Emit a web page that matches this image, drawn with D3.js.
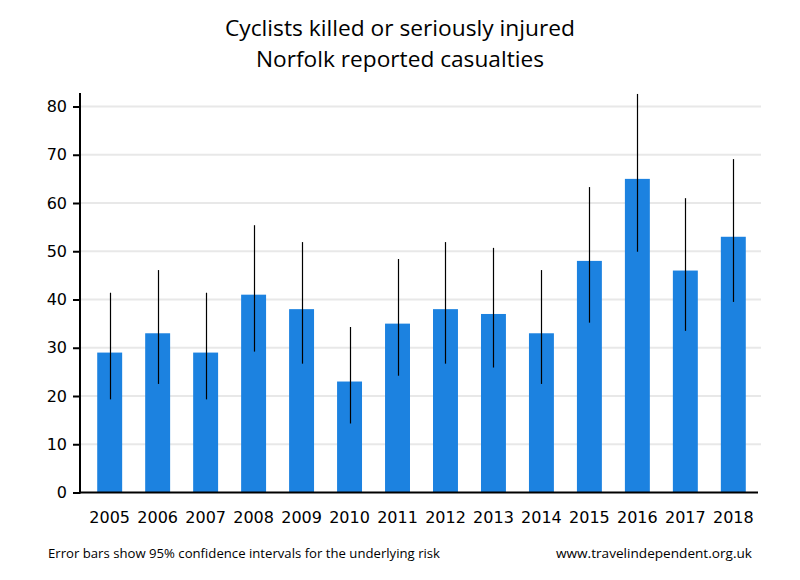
<!DOCTYPE html>
<html><head><meta charset="utf-8">
<script src="https://cdn.jsdelivr.net/npm/d3@7"></script>
<style>body{margin:0;background:#fff}</style>
</head><body>
<svg id="c" width="800" height="580"></svg>
<script>
const years = ["2005","2006","2007","2008","2009","2010","2011","2012","2013","2014","2015","2016","2017","2018"];
const casualties = [29,33,29,41,38,23,35,38,37,33,48,65,46,53];
const ciLow  = [19.3,22.5,19.3,29.2,26.7,14.3,24.2,26.7,25.9,22.5,35.2,49.9,33.5,39.5];
const ciHigh = [41.4,46.1,41.4,55.4,51.9,34.3,48.4,51.9,50.7,46.1,63.3,82.6,61.0,69.1];
const yTicks = [0,10,20,30,40,50,60,70,80];
const titleLines = ["Cyclists killed or seriously injured","Norfolk reported casualties"];
const footLeft = "Error bars show 95% confidence intervals for the underlying risk";
const footRight = "www.travelindependent.org.uk";

const svg = d3.select("#c");
const x = d3.scaleBand().domain(years).range([85.7,757.3]).paddingInner(0.48).paddingOuter(0.24);
const y = d3.scaleLinear().domain([0,80]).range([492.5,106.5]);

// gridlines
svg.append("g").selectAll("line").data(yTicks.filter(d=>d>0)).join("line")
  .attr("x1",80).attr("x2",761).attr("y1",d=>y(d)).attr("y2",d=>y(d))
  .attr("stroke","#e8e8e8").attr("stroke-width",2);

// bars
svg.append("g").selectAll("rect").data(years).join("rect")
  .attr("x",d=>x(d)).attr("width",x.bandwidth())
  .attr("y",(d,i)=>y(casualties[i])).attr("height",(d,i)=>y(0)-y(casualties[i]))
  .attr("fill","#1c82e0");

// error bars
svg.append("g").selectAll("line").data(years).join("line")
  .attr("x1",d=>Math.round(x(d)+x.bandwidth()/2)+0.5).attr("x2",d=>Math.round(x(d)+x.bandwidth()/2)+0.5)
  .attr("y1",(d,i)=>y(ciLow[i])).attr("y2",(d,i)=>y(ciHigh[i]))
  .attr("stroke","#000").attr("stroke-width",1.2);

// y axis
const ya = svg.append("g").attr("transform","translate(80,0)")
  .call(d3.axisLeft(y).tickValues(yTicks).tickSize(7).tickPadding(6));
ya.select(".domain").remove();
ya.selectAll(".tick line").attr("stroke","#000").attr("stroke-width",2);
ya.selectAll(".tick text").attr("font-family","'DejaVu Sans', Verdana, sans-serif").attr("font-size",16).attr("fill","#000");
svg.append("line").attr("x1",80).attr("x2",80).attr("y1",93).attr("y2",y(0)+1)
  .attr("stroke","#000").attr("stroke-width",2);

// x axis
const xa = svg.append("g").attr("transform",`translate(0,${y(0)})`)
  .call(d3.axisBottom(x).tickSize(0).tickPadding(19));
xa.select(".domain").remove();
xa.selectAll(".tick text").attr("font-family","'DejaVu Sans', Verdana, sans-serif").attr("font-size",16).attr("fill","#000");
svg.append("line").attr("x1",79).attr("x2",758).attr("y1",y(0)).attr("y2",y(0))
  .attr("stroke","#000").attr("stroke-width",2);

// title
svg.append("g").selectAll("text").data(titleLines).join("text")
  .attr("x",400).attr("y",(d,i)=>36+i*31).attr("text-anchor","middle")
  .attr("font-family","Open Sans").attr("font-size",21).attr("fill","#000")
  .attr("textLength",(d,i)=>i===0?350:288).attr("lengthAdjust","spacingAndGlyphs")
  .text(d=>d);

// footnotes
svg.append("text").attr("x",48).attr("y",558).attr("font-family","Open Sans").attr("font-size",12.5)
  .attr("textLength",392).attr("lengthAdjust","spacingAndGlyphs").text(footLeft);
svg.append("text").attr("x",556).attr("y",558).attr("font-family","Open Sans").attr("font-size",12.5)
  .attr("textLength",196).attr("lengthAdjust","spacingAndGlyphs").text(footRight);
</script>
</body></html>
